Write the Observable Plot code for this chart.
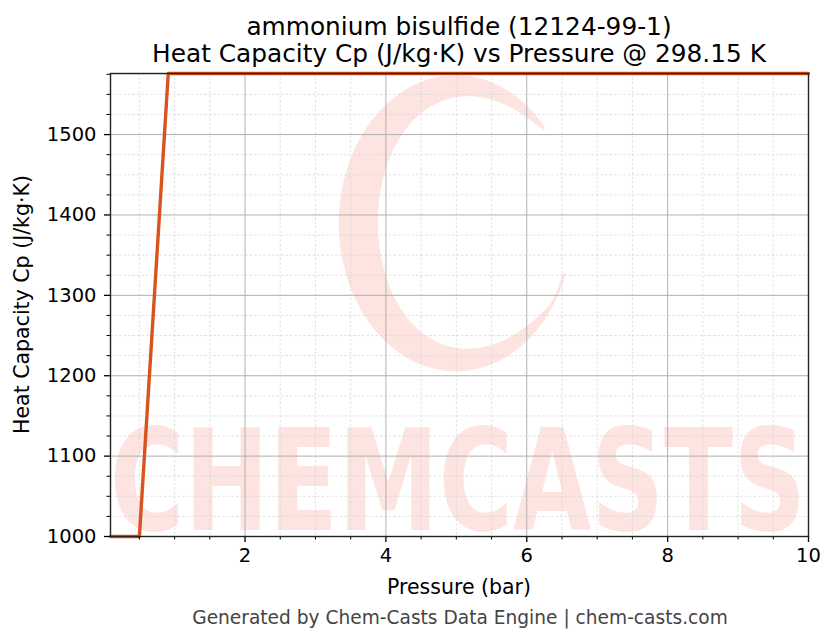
<!DOCTYPE html>
<html><head><meta charset="utf-8">
<script src="https://cdn.jsdelivr.net/npm/d3@7"></script>
<script src="https://cdn.jsdelivr.net/npm/@observablehq/plot@0.6"></script>
<style>
body{margin:0;background:#fff;font-family:"DejaVu Sans",sans-serif;}
#wrap{width:836px;height:644px;position:relative;overflow:hidden;}
#title{position:absolute;top:13px;left:0;width:918px;text-align:center;font-size:24.8px;line-height:27px;color:#000;}
#chart{position:absolute;top:64px;left:0;}
#caption{position:absolute;top:607px;left:0;width:920px;text-align:center;font-size:18.6px;color:#444;}
</style></head>
<body><div id="wrap">
<div id="title">ammonium bisulfide (12124-99-1)<br>Heat Capacity Cp (J/kg·K) vs Pressure @ 298.15 K</div>
<div id="chart"></div>
<div id="caption">Generated by Chem-Casts Data Engine | chem-casts.com</div>
</div>
<script>
const pressure = [0.09, 0.5, 0.91, 10];
const cp = [1000, 1000, 1576, 1576];
const xMajor = [2, 4, 6, 8, 10];
const yMajor = [1000, 1100, 1200, 1300, 1400, 1500];
const xMinor = [0.5, 1, 1.5, 2.5, 3, 3.5, 4.5, 5, 5.5, 6.5, 7, 7.5, 8.5, 9, 9.5];
const yMinor = [1025, 1050, 1075, 1125, 1150, 1175, 1225, 1250, 1275, 1325, 1350, 1375, 1425, 1450, 1475, 1525, 1550, 1575];
const xDomain = [0.09, 10];
const yDomain = [1000, 1576];

const data = pressure.map((p, i) => ({p, cp: cp[i]}));

const plot = Plot.plot({
  width: 836, height: 540,
  marginTop: 9, marginLeft: 110, marginRight: 28, marginBottom: 68,
  style: {fontFamily: "DejaVu Sans, sans-serif", fontSize: "19.5px", color: "#000", background: "transparent", overflow: "visible"},
  x: {domain: xDomain},
  y: {domain: yDomain},
  marks: [
    Plot.gridX(xMinor, {stroke: "#d4d4d4", strokeOpacity: 1, strokeDasharray: "2.5,2", strokeWidth: 0.7}),
    Plot.gridY(yMinor, {stroke: "#d4d4d4", strokeOpacity: 1, strokeDasharray: "2.5,2", strokeWidth: 0.7}),
    Plot.gridX(xMajor, {stroke: "#b0b0b0", strokeOpacity: 1, strokeWidth: 1}),
    Plot.gridY(yMajor, {stroke: "#b0b0b0", strokeOpacity: 1, strokeWidth: 1}),
    Plot.line(data, {x: "p", y: "cp", stroke: "#d9531e", strokeWidth: 3.4}),
    Plot.axisX(xMinor, {tickSize: 3.5, tickFormat: () => "", label: null, strokeWidth: 1}),
    Plot.axisY(yMinor, {tickSize: 3.5, tickFormat: () => "", label: null, strokeWidth: 1}),
    Plot.axisX(xMajor, {tickSize: 6, tickPadding: 6, label: null, fontSize: 19.5, tickFormat: d3.format("d"), strokeWidth: 1.3}),
    Plot.axisY(yMajor, {tickSize: 6, tickPadding: 8, label: null, fontSize: 19.5, tickFormat: d3.format("d"), strokeWidth: 1.3}),
    Plot.frame({stroke: "#222", strokeWidth: 1.4})
  ]
});
document.getElementById("chart").appendChild(plot);

// remove empty tick-label nodes of the minor axes
d3.select(plot).selectAll("text").filter(function() { return this.textContent === ""; }).remove();

// Watermark and axis labels
const svg = d3.select(plot);
const xs = plot.scale("x"), ys = plot.scale("y");
const X = v => xs.apply(v), Y = v => ys.apply(v);
const wm = svg.insert("g", ":first-child").attr("fill", "#fde4e0");
const x0 = X(xDomain[0]), x1 = X(xDomain[1]);
wm.append("text")
  .attr("x", x0).attr("y", Y(1000) - 6)
  .attr("text-anchor", "start")
  .attr("font-family", "DejaVu Sans")
  .attr("font-weight", "bold")
  .attr("font-size", 140)
  .attr("textLength", x1 - x0 - 2)
  .attr("lengthAdjust", "spacingAndGlyphs")
  .text("CHEMCASTS");
// ring logo
const cx = X(5.0), cy = Y(1389);
const rx = 117, ry = 148;
const outer = [], inner = [];
const n = 120;
for (let i = 0; i <= n; i++) {
  const s = i / n;
  const t = (-40 - s * 300) * Math.PI / 180;
  const w = 3 + 36 * Math.pow(Math.sin(Math.PI * Math.min(1, s * 1.05)), 0.8);
  outer.push([cx + rx * Math.cos(t), cy + ry * Math.sin(t)]);
  inner.push([cx + (rx - w) * Math.cos(t), cy + (ry - w * 0.9) * Math.sin(t)]);
}
const pts = outer.concat(inner.reverse());
wm.append("path").attr("d", "M" + pts.map(p => p.join(",")).join("L") + "Z");

svg.append("text")
  .attr("x", (x0 + x1) / 2).attr("y", 530)
  .attr("text-anchor", "middle")
  .attr("font-family", "DejaVu Sans")
  .attr("font-size", 20.5).attr("fill", "#000")
  .text("Pressure (bar)");
svg.append("text")
  .attr("transform", `translate(23,${(Y(yDomain[0]) + Y(yDomain[1])) / 2}) rotate(-90)`)
  .attr("text-anchor", "middle").attr("dominant-baseline", "middle")
  .attr("font-family", "DejaVu Sans")
  .attr("font-size", 20.5).attr("fill", "#000")
  .text("Heat Capacity Cp (J/kg·K)");
</script>
</body></html>
